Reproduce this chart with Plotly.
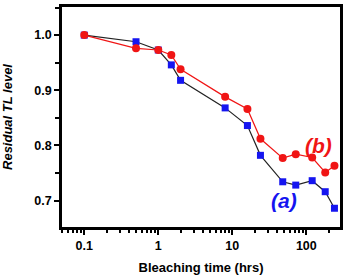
import plotly.graph_objects as go

time_hrs = [0.1, 0.5, 1, 1.5, 2, 8, 16, 24, 48, 72, 120, 180, 240]
series_a = [1.0, 0.988, 0.973, 0.946, 0.918, 0.868, 0.836, 0.782, 0.734, 0.728, 0.736, 0.716, 0.686]
series_b = [1.0, 0.976, 0.973, 0.964, 0.938, 0.888, 0.866, 0.812, 0.777, 0.784, 0.778, 0.751, 0.763]
x_ticks = [0.1, 1, 10, 100]
x_tick_labels = ["0.1", "1", "10", "100"]
y_ticks = [0.7, 0.8, 0.9, 1.0]
y_tick_labels = ["0.7", "0.8", "0.9", "1.0"]

fig = go.Figure()
fig.add_trace(go.Scatter(
    x=time_hrs, y=series_a, mode="lines+markers", name="(a)",
    line=dict(color="#222222", width=1.2),
    marker=dict(symbol="square", size=7, color="#1515f0"),
))
fig.add_trace(go.Scatter(
    x=time_hrs, y=series_b, mode="lines+markers", name="(b)",
    line=dict(color="#f01515", width=1.2),
    marker=dict(symbol="circle", size=8, color="#f01515"),
))

font_main = "Liberation Sans, Arial, sans-serif"
fig.update_layout(
    width=347, height=278,
    margin=dict(l=62, r=4, t=5, b=47),
    paper_bgcolor="white", plot_bgcolor="white",
    showlegend=False,
    font=dict(family=font_main, color="black"),
    xaxis=dict(
        type="log", range=[-1.301, 2.455],
        tickvals=x_ticks, ticktext=x_tick_labels,
        ticks="outside", ticklen=5, tickwidth=2, tickcolor="black",
        showline=True, linecolor="black", linewidth=2.5, mirror=True,
        showgrid=False, zeroline=False,
        tickfont=dict(size=12.5, family=font_main, weight="bold"),
        title=dict(text="<b>Bleaching time (hrs)</b>", font=dict(size=13), standoff=12),
        minor=dict(ticks="outside", ticklen=3, tickwidth=1.5, tickcolor="black", dtick="D1", showgrid=False),
    ),
    yaxis=dict(
        range=[0.652, 1.051],
        tickvals=y_ticks, ticktext=y_tick_labels,
        ticks="outside", ticklen=5, tickwidth=2, tickcolor="black",
        showline=True, linecolor="black", linewidth=2.5, mirror=True,
        showgrid=False, zeroline=False,
        tickfont=dict(size=12.5, family=font_main, weight="bold"),
        title=dict(text="<b><i>Residual TL level</i></b>", font=dict(size=13), standoff=19),
        minor=dict(ticks="outside", ticklen=4, tickwidth=1.5, tickcolor="black", dtick=0.05, showgrid=False),
    ),
    annotations=[
        dict(x=2.16, y=0.8, xref="x", yref="y", text="<b><i>(b)</i></b>", showarrow=False,
             font=dict(size=21, color="#f01515", family=font_main)),
        dict(x=1.70, y=0.70, xref="x", yref="y", text="<b><i>(a)</i></b>", showarrow=False,
             font=dict(size=21, color="#1515f0", family=font_main)),
    ],
)

fig.write_html("out.html")
